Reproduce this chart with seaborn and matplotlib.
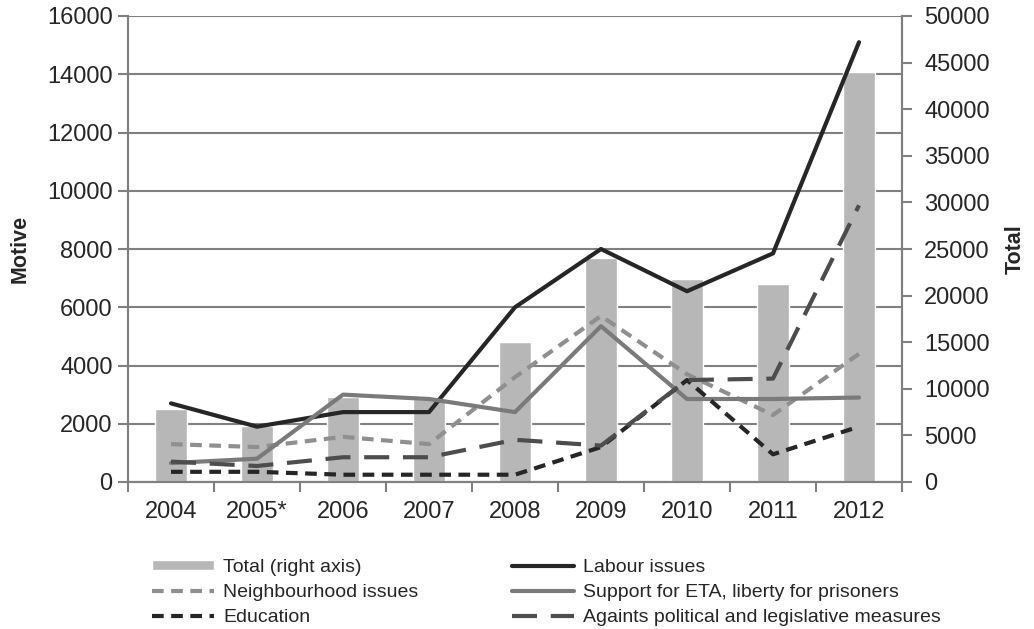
import numpy as np
import pandas as pd
import matplotlib
matplotlib.use("Agg")
import matplotlib.pyplot as plt
import seaborn as sns

years = ["2004", "2005*", "2006", "2007", "2008", "2009", "2010", "2011", "2012"]
total = [7800, 6000, 9100, 8900, 15000, 24000, 21800, 21200, 44000]
labour = [2700, 1900, 2400, 2400, 6000, 8000, 6550, 7850, 15100]
neighbourhood = [1300, 1200, 1550, 1300, 3600, 5700, 3700, 2300, 4400]
support_eta = [650, 800, 3000, 2850, 2400, 5350, 2850, 2850, 2900]
education = [350, 350, 250, 250, 250, 1200, 3500, 950, 1900]
against = [700, 550, 850, 850, 1450, 1250, 3500, 3550, 9500]

series_names = ["Labour issues", "Neighbourhood issues",
                "Support for ETA, liberty for prisoners", "Education",
                "Againts political and legislative measures"]
series_vals = [labour, neighbourhood, support_eta, education, against]
colors = {"Labour issues": "#262626",
          "Neighbourhood issues": "#8f8f8f",
          "Support for ETA, liberty for prisoners": "#7a7a7a",
          "Education": "#262626",
          "Againts political and legislative measures": "#4d4d4d"}
dashes = {"Labour issues": "",
          "Neighbourhood issues": (2.8, 1.8),
          "Support for ETA, liberty for prisoners": "",
          "Education": (2.8, 1.8),
          "Againts political and legislative measures": (6, 3.3)}

sns.set_theme(style="white")
plt.rcParams["font.family"] = ["Liberation Sans", "DejaVu Sans"]

pos = np.arange(len(years))
df_total = pd.DataFrame({"year": years, "total": total})
df_lines = pd.concat([pd.DataFrame({"pos": pos, "value": v, "series": n})
                      for n, v in zip(series_names, series_vals)])

fig = plt.figure(figsize=(10.34, 6.29), dpi=100)
ax = fig.add_axes([128 / 1034, 1 - 482 / 629, 774 / 1034, 466 / 629])
ax2 = ax.twinx()
ax3 = ax.twinx()

grey = "#808080"

# bars on right axis
sns.barplot(data=df_total, x="year", y="total", color="#b7b7b7", width=0.37,
            saturation=1, ax=ax2, label="Total (right axis)")
ax2.set_ylim(0, 50000)
ax2.set_yticks(np.arange(0, 50001, 5000))
ax2.set_ylabel("Total", fontsize=15.5, fontweight="bold", labelpad=11)
ax2.tick_params(axis="y", labelsize=17, length=7, width=1.5, color=grey, pad=9)

# lines, drawn on a third axes so they sit over the bars
sns.lineplot(data=df_lines, x="pos", y="value", hue="series", style="series",
             hue_order=series_names, style_order=series_names,
             palette=colors, dashes=dashes, linewidth=3, ax=ax3)
ax3.set_ylim(0, 16000)
ax3.axis("off")

# left axis
ax.set_ylim(0, 16000)
ax.set_yticks(np.arange(0, 16001, 2000))
ax.yaxis.grid(True, color=grey, linewidth=1.5)
ax.set_ylabel("Motive", fontsize=15.5, fontweight="bold", labelpad=12)
ax.tick_params(axis="y", labelsize=17, length=7, width=1.5, color=grey, pad=4, left=True)

for a in (ax, ax2, ax3):
    a.set_xlim(-0.5, len(years) - 0.5)
ax.set_xticks(np.arange(-0.5, len(years), 1))
ax.set_xticklabels([])
ax.set_xticks(pos, labels=years, minor=True)
ax.tick_params(axis="x", which="major", length=7, width=1.5, color=grey, bottom=True)
ax.tick_params(axis="x", which="minor", length=0, labelsize=17, pad=14)
ax.set_xlabel("")
ax2.set_xlabel("")
ax3.set_xlabel("")

for a in (ax, ax2):
    for s in a.spines.values():
        s.set_color(grey)
        s.set_linewidth(1.5)
    a.spines["top"].set_visible(False)

# legend
h_bar, l_bar = ax2.get_legend_handles_labels()
h_lines, l_lines = ax3.get_legend_handles_labels()
if ax2.get_legend():
    ax2.get_legend().remove()
if ax3.get_legend():
    ax3.get_legend().remove()
lookup = dict(zip(l_lines, h_lines))
handles = [h_bar[0], lookup["Neighbourhood issues"], lookup["Education"],
           lookup["Labour issues"], lookup["Support for ETA, liberty for prisoners"],
           lookup["Againts political and legislative measures"]]
labels = ["Total (right axis)", "Neighbourhood issues", "Education",
          "Labour issues", "Support for ETA, liberty for prisoners",
          "Againts political and legislative measures"]
fig.legend(handles, labels, ncol=2, loc="upper left",
           bbox_to_anchor=(152 / 1034, 1 - 559 / 629), frameon=False,
           fontsize=14, borderpad=0, borderaxespad=0,
           handlelength=3.2, handleheight=0.42, handletextpad=0.45,
           labelspacing=0.41, columnspacing=4.8)

fig.savefig("out.png", dpi=100)
